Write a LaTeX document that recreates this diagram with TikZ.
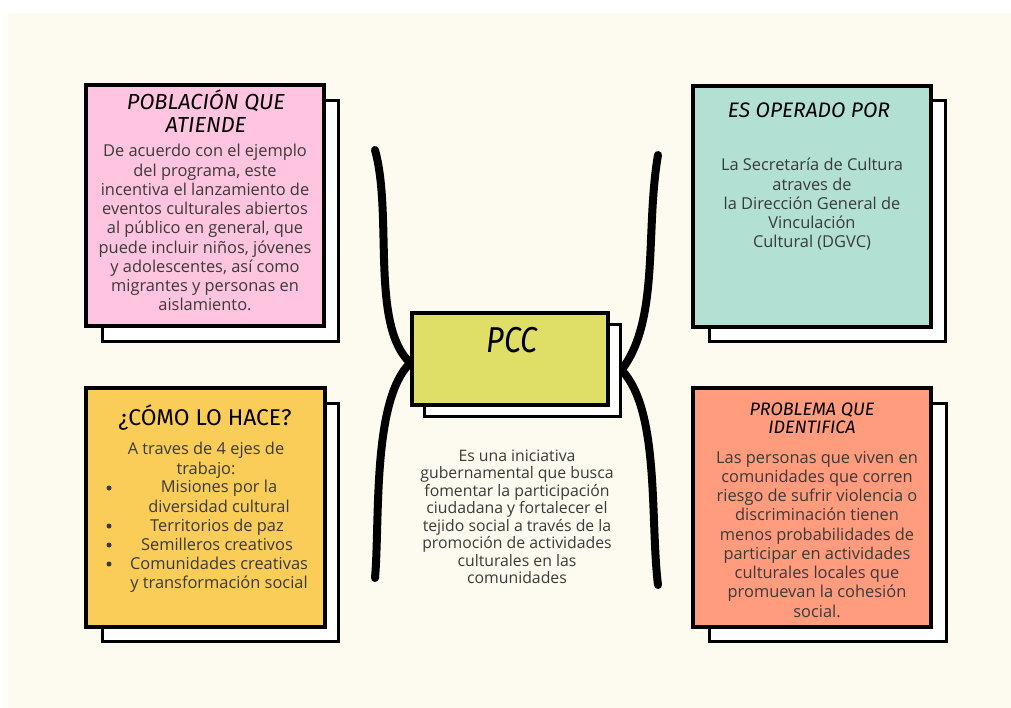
\documentclass[tikz,border=0pt]{standalone}
\usepackage{fontspec}
\setmainfont{Open Sans}
\newfontfamily\titlefont{Fira Sans}
\newfontfamily\pccfont[FakeStretch=0.85]{Fira Sans}
\definecolor{cream}{HTML}{FDFBEF}
\definecolor{pinkbox}{HTML}{FFC5E0}
\definecolor{tealbox}{HTML}{B2E1D3}
\definecolor{yellowbox}{HTML}{F9CD58}
\definecolor{salmonbox}{HTML}{FF9C7E}
\definecolor{pccbox}{HTML}{DFDF68}
\definecolor{txt}{HTML}{3A3A3A}
\pgfdeclarelayer{back}
\pgfdeclarelayer{curves}
\pgfsetlayers{back,curves,main}
\begin{document}
\begin{tikzpicture}[x=1pt,y=-1pt,
  shadowbox/.style={draw=black, line width=3pt, fill=white, inner sep=0},
  frontbox/.style={draw=black, line width=3.5pt, inner sep=0},
  bodytext/.style={font=\fontsize{16.4}{19.25}\selectfont, text=txt, align=center, inner sep=0, anchor=base},
  titletext/.style={text=black, align=center, inner sep=0, anchor=base},
  brace/.style={line width=8pt, line cap=round, black},
  bulletdot/.style={circle, fill=txt, inner sep=0, minimum size=5pt}]
\useasboundingbox (0,0) rectangle (1011,708);
\begin{pgfonlayer}{back}
\fill[white] (0,0) rectangle (1011,708);
\fill[cream] (8,13) rectangle (1011,708);
\end{pgfonlayer}

% shadows
\node[shadowbox, minimum width=236pt, minimum height=240pt] (s1) at (220,221) {};
\node[shadowbox, minimum width=236pt, minimum height=240pt] (s2) at (827,221) {};
\node[shadowbox, minimum width=236pt, minimum height=238pt] (s3) at (220,522) {};
\node[shadowbox, minimum width=237pt, minimum height=238pt] (s4) at (827.5,522) {};
\node[shadowbox, minimum width=196pt, minimum height=92pt] (s5) at (522,370) {};
% front boxes
\node[frontbox, fill=pinkbox, minimum width=238pt, minimum height=241pt] (pob) at (205,205.5) {};
\node[frontbox, fill=tealbox, minimum width=238pt, minimum height=241pt] (ope) at (812,206.5) {};
\node[frontbox, fill=yellowbox, minimum width=239pt, minimum height=239pt] (com) at (205.5,507.5) {};
\node[frontbox, fill=salmonbox, minimum width=238pt, minimum height=239pt] (pro) at (812,507.5) {};
\node[frontbox, fill=pccbox, minimum width=196pt, minimum height=92pt] (pcc) at (510,359) {};

% braces
\coordinate (lt) at (375,150);
\coordinate (lb) at (375,578);
\coordinate (rt) at (658,155);
\coordinate (rb) at (658,585);
\begin{pgfonlayer}{curves}
\draw[brace] (lt) .. controls (393,215) and (370,325) .. ([yshift=-4pt]pcc.west);
\draw[brace] ([yshift=-4pt]pcc.west) .. controls (372,400) and (380,520) .. (lb);
\draw[brace] (rt) .. controls (645,230) and (660,320) .. (s5.east);
\draw[brace] (s5.east) .. controls (660,410) and (650,520) .. (rb);
\end{pgfonlayer}

% titles (anchor = baseline of last line)
\node[titletext, font=\titlefont\itshape\fontsize{21.8}{23}\selectfont] (t1) at (206,133) {POBLACIÓN QUE\\ATIENDE};
\node[titletext, font=\titlefont\itshape\fontsize{21}{21}\selectfont] (t2) at (809,118) {ES OPERADO POR};
\node[titletext, font=\titlefont\fontsize{22.8}{24}\selectfont] (t3) at (205,425) {¿CÓMO LO HACE?};
\node[titletext, font=\titlefont\itshape\fontsize{18}{18}\selectfont] (t4) at (812,433) {PROBLEMA QUE\\IDENTIFICA};
\node[titletext, font=\pccfont\itshape\fontsize{36}{36}\selectfont] (t5) at (512,352) {PCC};

% body texts (anchor = baseline of last line)
\node[bodytext] (b1) at (205,311) {De acuerdo con el ejemplo\\del programa, este\\incentiva el lanzamiento de\\eventos culturales abiertos\\al público en general, que\\puede incluir niños, jóvenes\\y adolescentes, así como\\migrantes y personas en\\aislamiento.};
\node[bodytext] (b2) at (812,248) {La Secretaría de Cultura\\atraves de\\la Dirección General de\\Vinculación\\Cultural (DGVC)};
\node[bodytext] (b3) at (206,474) {A traves de 4 ejes de\\trabajo:};
\node[bodytext] (i1) at (219,512) {Misiones por la\\diversidad cultural};
\node[bodytext] (i2) at (217,531) {Territorios de paz};
\node[bodytext] (i3) at (217,550) {Semilleros creativos};
\node[bodytext] (i4) at (219,588.5) {Comunidades creativas\\y transformación social};
\node[bulletdot] (d1) at (109,488) {};
\node[bulletdot] (d2) at (109,526) {};
\node[bulletdot] (d3) at (109,545) {};
\node[bulletdot] (d4) at (109,564) {};
\node[bodytext] (b4) at (817,617) {Las personas que viven en\\comunidades que corren\\riesgo de sufrir violencia o\\discriminación tienen\\menos probabilidades de\\participar en actividades\\culturales locales que\\promuevan la cohesión\\social.};
\node[bodytext, font=\fontsize{15.8}{17.5}\selectfont] (b5) at (517,583.5) {Es una iniciativa\\gubernamental que busca\\fomentar la participación\\ciudadana y fortalecer el\\tejido social a través de la\\promoción de actividades\\culturales en las\\comunidades};
\end{tikzpicture}
\end{document}
